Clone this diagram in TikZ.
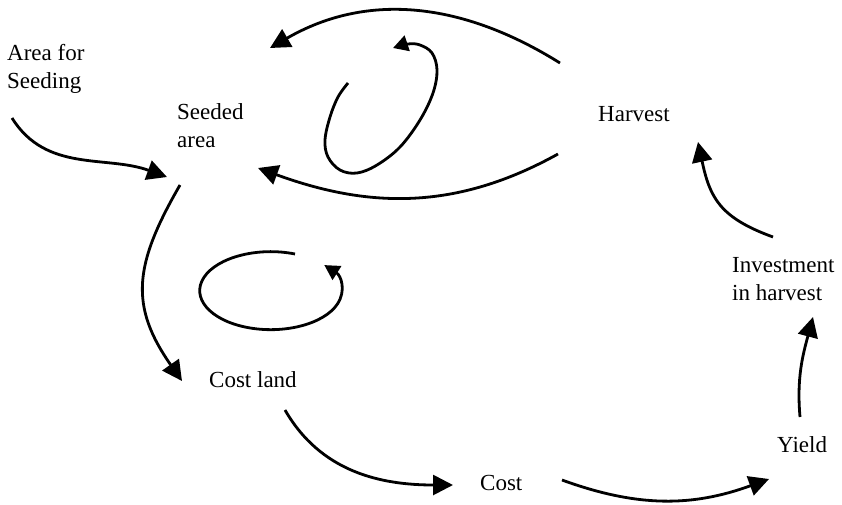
\documentclass[tikz,border=0pt]{standalone}
\usepackage{fontspec}
\setmainfont{Liberation Serif}
\usepackage{tikz}
\usetikzlibrary{arrows.meta,calc}

\begin{document}
\begin{tikzpicture}[x=1pt,y=1pt,
		lbl/.style={inner sep=0pt, anchor=base west, align=left, font=\fontsize{23}{28}\selectfont},
		flow/.style={line width=2.8pt, -{Triangle[length=20pt,width=20pt]}},
		cyc/.style={line width=2.8pt, -{Triangle[length=15pt,width=16pt]}}]
				\useasboundingbox (0,0) rectangle (842,-504);
				\node[lbl] (area) at (7,-88) {Area for\\Seeding};
				\node[lbl] (seeded) at (177,-147) {Seeded\\area};
				\node[lbl] (harvest) at (598,-121) {Harvest};
				\node[lbl] (invest) at (732,-300) {Investment\\in harvest};
				\node[lbl] (yield) at (777,-452) {Yield};
				\node[lbl] (cost) at (480,-490) {Cost};
				\node[lbl] (costland) at (209,-387) {Cost land};
				\draw[flow] ($(area.base west)+(5,-30)$) to[out=-58,in=160] ($(seeded.base west)+(-10,-30)$);
				\draw[flow] ($(seeded.base west)+(3,-38)$) to[out=-120,in=125,looseness=1.2] ($(costland.base west)+(-27,6)$);
				\draw[flow] ($(costland.base west)+(76,-23)$) to[out=-60,in=180] ($(cost.base west)+(-27,5)$);
				\draw[flow] ($(cost.base west)+(82,10)$) to[out=-20,in=-160] ($(yield.base west)+(-8,-27)$);
				\draw[flow] ($(yield.base west)+(23,35)$) to[out=95,in=-105] ($(invest.base west)+(81,-17)$);
				\draw[flow] ($(invest.base west)+(41,63)$) to[out=160,in=-78,looseness=1.2] ($(harvest.base west)+(100,-21)$);
				\draw[flow] ($(harvest.base west)+(-38,58)$) to[out=148,in=30] ($(seeded.base west)+(93,99)$);
				\draw[flow] ($(harvest.base west)+(-40,-33)$) to[out=-151,in=-20] ($(seeded.base west)+(81,-21)$);
				\draw[cyc] plot[smooth, tension=0.6] coordinates {(348,-83) (338,-97) (330,-117) (325,-140) (328,-157)
					(340,-170) (357,-173) (377,-165) (400,-147) (420,-120) (433,-93) (437,-70) (432,-53) (420,-45) (408,-44) (393,-48)};
				\draw[cyc] (295,-254) arc[start angle=70, end angle=401, x radius=71, y radius=39];
			\end{tikzpicture}
\end{document}
